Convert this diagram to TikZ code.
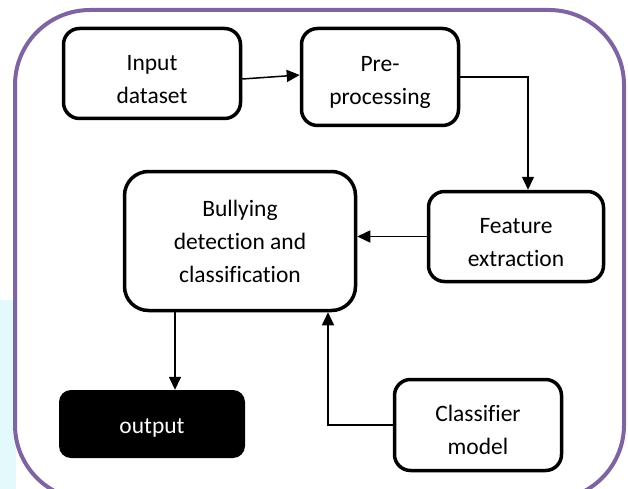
\documentclass[tikz,border=0pt]{standalone}
\usepackage{fontspec}
\setmainfont{Carlito}[Ligatures=CommonOff]
\usetikzlibrary{arrows.meta}
\definecolor{framepurple}{RGB}{128,100,162}
\definecolor{paleblue}{RGB}{228,249,252}
\newcommand{\topstrut}{\rule{0pt}{27pt}}
\tikzset{
  blockbox/.style={draw, line width=3.5pt, rounded corners=16pt, align=center,
    inner sep=0pt, font=\fontsize{23.5}{33}\selectfont},
  outbox/.style={fill=black, text=white, rounded corners=12pt, align=center,
    inner sep=0pt, font=\fontsize{23.5}{33}\selectfont}
}
\begin{document}
\begin{tikzpicture}[x=1pt, y=-1pt, >={Triangle[length=13pt,width=12pt]}]
        \useasboundingbox (0,0) rectangle (628,489);
        \clip (0,0) rectangle (628,489);
        % background and frame
        \fill[paleblue] (0,300) rectangle (16,489);
        \draw[framepurple, line width=4pt, fill=white, rounded corners=75pt] (15,10) rectangle (624,500);
        % blocks
        \node[blockbox, minimum width=177pt, minimum height=90pt] (indata) at (152,73.5) {\topstrut Input\\dataset};
        \node[blockbox, minimum width=157pt, minimum height=97pt] (prep) at (380,77) {\topstrut Pre-\\processing};
        \node[blockbox, minimum width=175pt, minimum height=90pt] (feat) at (516,236.5) {\topstrut Feature\\extraction};
        \node[blockbox, rounded corners=24pt, minimum width=231pt, minimum height=139pt] (bully) at (240,241) {Bullying\\detection and\\classification};
        \node[outbox, minimum width=186pt, minimum height=68pt] (outp) at (152,424) {\rule{0pt}{22pt}output};
        \node[blockbox, minimum width=167pt, minimum height=91pt] (clsf) at (478,425) {\topstrut Classifier\\model};
        % connectors
        \draw[->, line width=1.5pt] ([yshift=-5.5pt]indata.east) -- ([yshift=2pt]prep.west);
        \draw[->, line width=1.5pt] (prep.east) -| ([xshift=12pt]feat.north);
        \draw[->, line width=1.5pt] (feat.west) -- (feat.west -| bully.east);
        \draw[->, line width=1.5pt] ([xshift=-65pt]bully.south) -- ([xshift=23pt]outp.north);
        \draw[->, line width=1.5pt] (clsf.west) -| ([xshift=88pt]bully.south);
    \end{tikzpicture}
\end{document}
